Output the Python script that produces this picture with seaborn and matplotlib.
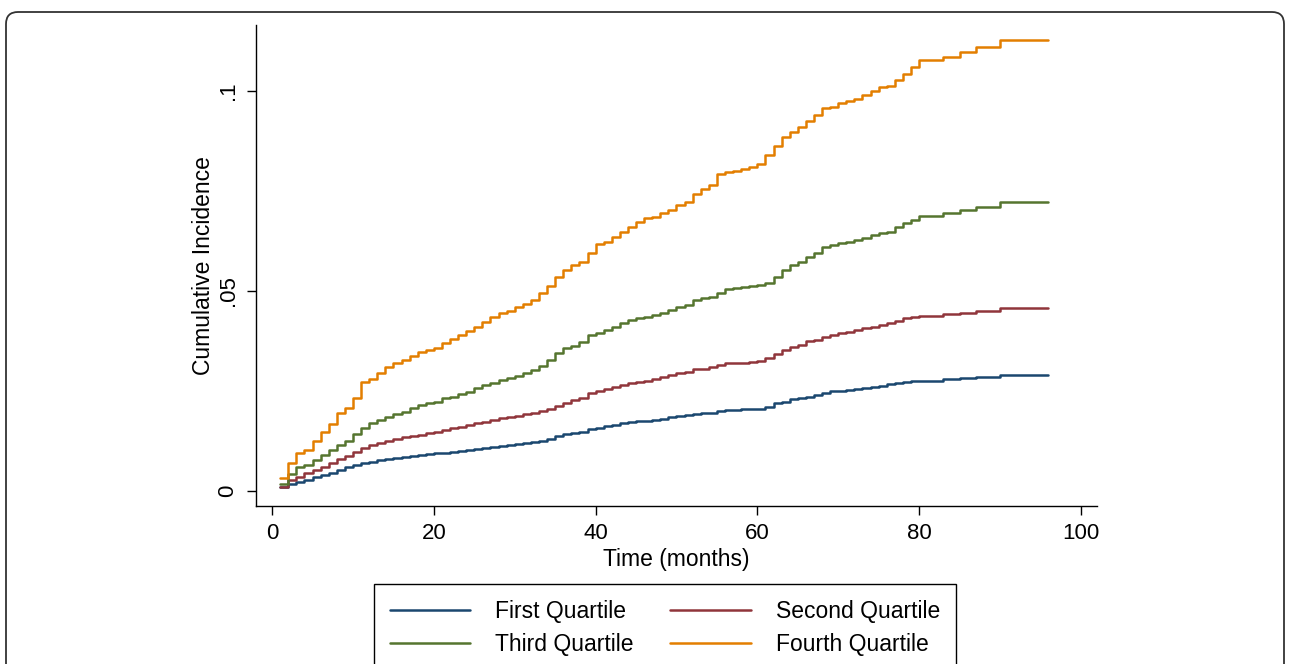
import matplotlib
matplotlib.use("Agg")
import matplotlib.pyplot as plt
import matplotlib.patches as patches
import matplotlib.transforms as transforms
import seaborn as sns
import pandas as pd

# Months of follow-up (one step per month)
months = list(range(1, 97))

# Cumulative incidence, month 1..96
first_quartile = [
    .0009, .0017, .0023, .0027, .0034, .0040, .0046, .0052, .0059, .0065,
    .0069, .0073, .0077, .0080, .0083, .0086, .0088, .0090, .0092, .0094,
    .0096, .0098, .0101, .0102, .0105, .0108, .0111, .0113, .0115, .0117,
    .0119, .0122, .0125, .0129, .0137, .0142, .0144, .0148, .0155, .0158,
    .0162, .0165, .0169, .0172, .0174, .0176, .0177, .0180, .0184, .0187,
    .0190, .0192, .0194, .0196, .0201, .0202, .0203, .0204, .0205, .0206,
    .0211, .0219, .0223, .0229, .0232, .0236, .0239, .0246, .0249, .0251,
    .0253, .0255, .0258, .0261, .0263, .0268, .0271, .0273, .0276, .0276,
    .0276, .0276, .0279, .0279, .0282, .0282, .0284, .0284, .0284, .0290,
    .0290, .0290, .0290, .0290, .0290, .0290]
second_quartile = [
    .0011, .0027, .0036, .0044, .0052, .0061, .0069, .0079, .0087, .0098,
    .0107, .0115, .0119, .0125, .0129, .0134, .0137, .0141, .0144, .0147,
    .0152, .0157, .0161, .0165, .0169, .0173, .0177, .0182, .0184, .0187,
    .0192, .0196, .0199, .0204, .0213, .0221, .0228, .0233, .0244, .0250,
    .0254, .0259, .0265, .0269, .0273, .0276, .0279, .0284, .0290, .0294,
    .0298, .0304, .0304, .0309, .0315, .0319, .0320, .0321, .0322, .0325,
    .0332, .0343, .0353, .0359, .0365, .0375, .0378, .0386, .0390, .0394,
    .0397, .0403, .0407, .0411, .0415, .0419, .0425, .0433, .0436, .0438,
    .0438, .0438, .0442, .0442, .0446, .0446, .0451, .0451, .0451, .0458,
    .0458, .0458, .0458, .0458, .0458, .0458]
third_quartile = [
    .0017, .0042, .0059, .0065, .0077, .0090, .0102, .0115, .0126, .0142,
    .0157, .0171, .0177, .0184, .0192, .0198, .0207, .0215, .0221, .0223,
    .0232, .0236, .0243, .0248, .0257, .0265, .0271, .0278, .0282, .0288,
    .0294, .0303, .0313, .0327, .0346, .0357, .0363, .0373, .0390, .0396,
    .0403, .0411, .0419, .0428, .0432, .0436, .0440, .0446, .0453, .0459,
    .0465, .0478, .0482, .0486, .0494, .0504, .0507, .0509, .0513, .0515,
    .0521, .0536, .0553, .0565, .0572, .0586, .0595, .0611, .0615, .0619,
    .0623, .0628, .0633, .0640, .0644, .0648, .0659, .0669, .0678, .0688,
    .0688, .0688, .0694, .0694, .0703, .0703, .0709, .0709, .0709, .0722,
    .0722, .0722, .0722, .0722, .0722, .0722]
fourth_quartile = [
    .0032, .0069, .0096, .0102, .0126, .0148, .0167, .0194, .0207, .0232,
    .0272, .0280, .0296, .0309, .0319, .0327, .0338, .0348, .0352, .0358,
    .0369, .0380, .0390, .0400, .0411, .0423, .0434, .0444, .0450, .0461,
    .0468, .0478, .0496, .0513, .0536, .0553, .0565, .0573, .0594, .0617,
    .0623, .0636, .0648, .0661, .0673, .0682, .0686, .0694, .0703, .0715,
    .0723, .0743, .0754, .0765, .0792, .0797, .0801, .0804, .0809, .0818,
    .0840, .0863, .0886, .0898, .0910, .0925, .0940, .0957, .0960, .0970,
    .0975, .0980, .0990, .1000, .1010, .1013, .1028, .1043, .1060, .1077,
    .1077, .1077, .1085, .1085, .1098, .1098, .1110, .1110, .1110, .1128,
    .1128, .1128, .1128, .1128, .1128, .1128]

group_names = ["First Quartile", "Second Quartile", "Third Quartile", "Fourth Quartile"]
group_colors = ["#1a476f", "#90353b", "#55752f", "#e37e00"]
x_ticks = [0, 20, 40, 60, 80, 100]
y_ticks = [0, 0.05, 0.1]
y_tick_labels = ["0", ".05", ".1"]

# Long table for seaborn
frames = []
for name, values in zip(group_names, [first_quartile, second_quartile, third_quartile, fourth_quartile]):
    frames.append(pd.DataFrame({"month": months, "incidence": values, "group": name}))
data = pd.concat(frames, ignore_index=True)

sns.set_style("ticks")
plt.rcParams["font.family"] = ["Liberation Sans", "DejaVu Sans"]
plt.rcParams["text.color"] = "black"
plt.rcParams["axes.labelcolor"] = "black"
plt.rcParams["xtick.color"] = "black"
plt.rcParams["ytick.color"] = "black"

fig = plt.figure(figsize=(12.9, 6.64), dpi=100)
ax = fig.add_axes([0.1984, 0.238, 0.652, 0.7243])

sns.lineplot(data=data, x="month", y="incidence", hue="group", hue_order=group_names,
             palette=group_colors, drawstyle="steps-post", linewidth=1.8,
             estimator=None, ax=ax)

ax.set_xlim(-2, 102)
ax.set_ylim(-0.00375, 0.1165)
ax.set_xticks(x_ticks)
ax.set_yticks(y_ticks, y_tick_labels)
plt.setp(ax.get_yticklabels(), rotation=90, va="center")
ax.tick_params(axis="both", labelsize=16, length=6.5, width=1, color="black", pad=6)
ax.set_xlabel("Time (months)", fontsize=16.5, labelpad=3)
ax.set_ylabel("Cumulative Incidence", fontsize=16.5, labelpad=1.5)
sns.despine(ax=ax)
for side in ["left", "bottom"]:
    ax.spines[side].set_linewidth(1)
    ax.spines[side].set_color("black")

# Legend below the plot, two columns filled row by row
handles, labels = ax.get_legend_handles_labels()
ax.get_legend().remove()
order = [0, 2, 1, 3]
leg = fig.legend([handles[i] for i in order], [labels[i] for i in order],
                 loc="upper center", bbox_to_anchor=(0.5155, 0.1205), borderaxespad=0,
                 ncol=2, fontsize=16.5, frameon=True, fancybox=False, handlelength=3.5,
                 handletextpad=1.1, columnspacing=1.6, labelspacing=0.45,
                 borderpad=0.7, edgecolor="black", framealpha=1)
leg.get_frame().set_linewidth(1)
for line in leg.get_lines():
    line.set_linewidth(1.8)

# Rounded outer frame (bottom edge runs off the picture)
frame = patches.FancyBboxPatch((6, -30), 1278, 682, boxstyle="round,pad=0,rounding_size=12",
                               transform=transforms.IdentityTransform(), fill=False,
                               edgecolor="#333333", linewidth=1.3)
fig.patches.append(frame)

fig.savefig("out.png", dpi=100)
